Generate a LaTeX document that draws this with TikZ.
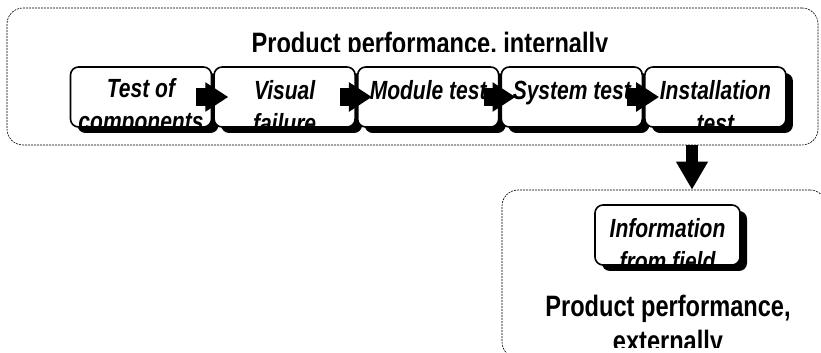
\documentclass[tikz,border=0pt]{standalone}
\usepackage{fontspec}
\setmainfont{Liberation Sans}[FakeStretch=0.8]
\usetikzlibrary{positioning,shadows,arrows.meta}

\tikzset{
  dashbox/.style={draw, dash pattern=on 2pt off 1pt, line width=0.6pt, rounded corners=16pt},
  stagetext/.style={font=\fontsize{26.3}{33}\selectfont\bfseries\itshape, align=center, inner sep=0pt},
  stage/.style={draw, line width=1.6pt, rounded corners=8pt, fill=white,
    minimum width=141pt, minimum height=60pt, inner sep=0pt,
    drop shadow={shadow xshift=7pt, shadow yshift=-6pt, opacity=1, fill=black},
    path picture={\node[stagetext, anchor=north] at ([yshift=21pt]path picture bounding box.center) {#1};}},
  flowarrow/.style={line width=18pt, -{Triangle[length=23pt,width=28pt]}},
  droparrow/.style={line width=12pt, -{Triangle[length=28pt,width=30pt]}},
  title/.style={font=\fontsize{29.5}{35}\selectfont\bfseries, align=center, inner sep=0pt}
}

\begin{document}
\begin{tikzpicture}[x=1pt, y=1pt]
  \path[use as bounding box, clip] (0,0) rectangle (821,353);

  % the two dashed areas
  \node[dashbox, minimum width=811pt, minimum height=137pt] (internal) at (412.5,276.5) {};
  \node[dashbox, minimum width=324pt, minimum height=168pt] (external) at (664,79) {};

  \begin{scope}
    \clip (0,301.5) rectangle (821,353);
    \node[title, anchor=base] (inttitle) at (430,299) {Product performance, internally};
  \end{scope}
  \begin{scope}
    \clip (0,5) rectangle (821,80);
    \node[title, anchor=north] (exttitle) at (668,58) {Product performance,\\externally};
  \end{scope}

  % test stages
  \node[stage={Test of\\components}] (comp) at (141,256) {};
  \node[stage={Visual\\failure}, right=1pt of comp] (visual) {};
  \node[stage={Module test\\~}, right=1pt of visual] (module) {};
  \node[stage={System test\\~}, right=1pt of module] (system) {};
  \node[stage={Installation\\test}, right=1pt of system] (install) {};

  \node[stage={Information\\from field}, minimum width=145pt] (field) at (667.5,118) {};

  \draw[flowarrow] ([xshift=-16pt]comp.east) -- ([xshift=15pt]visual.west);
  \draw[flowarrow] ([xshift=-16pt]visual.east) -- ([xshift=15pt]module.west);
  \draw[flowarrow] ([xshift=-16pt]module.east) -- ([xshift=15pt]system.west);
  \draw[flowarrow] ([xshift=-16pt]system.east) -- ([xshift=15pt]install.west);

  \coordinate (drop) at (692,0);
  \draw[droparrow] (internal.south -| drop) -- (external.north -| drop);
\end{tikzpicture}
\end{document}
